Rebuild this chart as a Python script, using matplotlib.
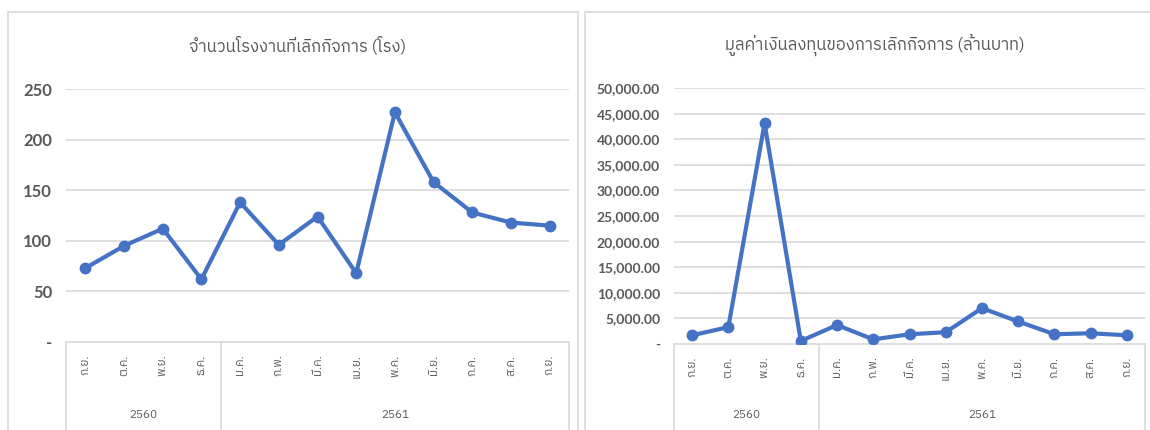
import matplotlib
matplotlib.use('Agg')
import matplotlib.pyplot as plt
from matplotlib.patches import Rectangle
from matplotlib.transforms import blended_transform_factory
from matplotlib import font_manager

# fuentes: buscar alguna con glifos tailandeses
thai_fonts = sorted({f.name for f in font_manager.fontManager.ttflist if 'Thai' in f.name})
plt.rcParams['font.family'] = thai_fonts + ['DejaVu Sans']
NUM_FONT = ['Lato', 'DejaVu Sans']

# datos
months = ['ก.ย.', 'ต.ค.', 'พ.ย.', 'ธ.ค.', 'ม.ค.', 'ก.พ.', 'มี.ค.', 'เม.ย.', 'พ.ค.', 'มิ.ย.', 'ก.ค.', 'ส.ค.', 'ก.ย.']
years = ['2560', '2561']
year_sizes = [4, 9]
factories = [73, 95, 112, 62, 138, 96, 124, 68, 227, 158, 128, 118, 115]
investment = [1700, 3300, 43100, 600, 3700, 900, 1900, 2300, 7000, 4400, 1900, 2100, 1700]

left_title = 'จำนวนโรงงานที่เลิกกิจการ (โรง)'
right_title = 'มูลค่าเงินลงทุนของการเลิกกิจการ (ล้านบาท)'
left_ticks = [0, 50, 100, 150, 200, 250]
left_ticklabels = ['-', '50', '100', '150', '200', '250']
right_ticks = [0, 5000, 10000, 15000, 20000, 25000, 30000, 35000, 40000, 45000, 50000]
right_ticklabels = ['-'] + ['{:,.2f}'.format(v) for v in right_ticks[1:]]

W, H = 1150, 430
BLUE = '#4472C4'
GRID = '#d9d9d9'
TXT = '#595959'

fig = plt.figure(figsize=(W / 100, H / 100), dpi=100)

def px(x0, y0, x1, y1):
    # rectangulo en pixeles (y desde arriba) -> fracciones de figura
    return [x0 / W, 1 - y1 / H, (x1 - x0) / W, (y1 - y0) / H]

# marcos de los paneles
for x0, x1 in [(8, 578), (585, 1160)]:
    fig.patches.append(Rectangle((x0 / W, -0.1), (x1 - x0) / W, 1 - 12 / H + 0.1,
                                 transform=fig.transFigure, fill=False,
                                 edgecolor=GRID, linewidth=1.2))

def draw(rect, values, ticks, ticklabels, title, title_x, ysize):
    ax = fig.add_axes(px(*rect))
    ax.plot(range(len(values)), values, color=BLUE, linewidth=3, marker='o',
            markersize=7.5, solid_joinstyle='round', zorder=3)
    ax.set_xlim(-0.5, len(values) - 0.5)
    ax.set_ylim(0, ticks[-1])
    ax.set_yticks(ticks, ticklabels, family=NUM_FONT, weight='bold')
    ax.tick_params(axis='y', length=0, pad=10, labelsize=ysize, labelcolor=TXT)
    ax.set_xticks(range(len(values)), months, rotation=90)
    ax.tick_params(axis='x', length=0, pad=9, labelsize=8.5, labelcolor=TXT)
    for t in ticks[1:]:
        ax.axhline(t, color=GRID, linewidth=1.2, zorder=1)
    for s in ['top', 'right', 'left']:
        ax.spines[s].set_visible(False)
    ax.spines['bottom'].set_color(GRID)
    ax.spines['bottom'].set_linewidth(1.2)
    # eje de categorias agrupado
    tr = ax.get_xaxis_transform()
    edges = [-0.5]
    for n in year_sizes:
        edges.append(edges[-1] + n)
    for e in edges:
        ax.plot([e, e], [0, -2], transform=tr, color=GRID, linewidth=1.2, clip_on=False)
    ytr = blended_transform_factory(ax.transData, fig.transFigure)
    for i, yr in enumerate(years):
        ax.text((edges[i] + edges[i + 1]) / 2, 1 - 415 / H, yr, transform=ytr,
                ha='center', va='center', fontsize=8.5, color=TXT)
    fig.text(title_x / W, 1 - 45 / H, title, ha='center', va='center',
             fontsize=12, color=TXT)
    return ax

draw((66, 89, 569, 342), factories, left_ticks, left_ticklabels, left_title, 298, 12)
draw((674, 88, 1145, 344), investment, right_ticks, right_ticklabels, right_title, 875, 10)

fig.savefig('out.png', dpi=100)
